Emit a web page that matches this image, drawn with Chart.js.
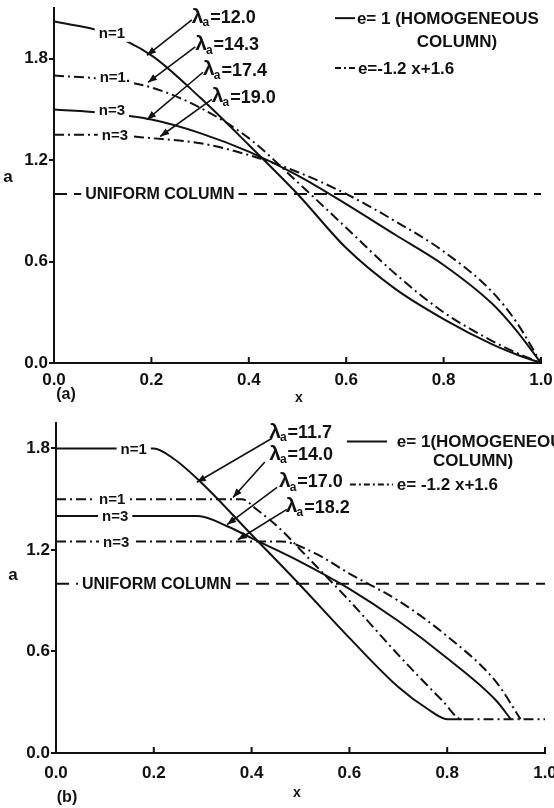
<!DOCTYPE html>
<html>
<head>
<meta charset="utf-8">
<script src="https://cdn.jsdelivr.net/npm/chart.js@4.4.0/dist/chart.umd.min.js"></script>
<style>
  html, body { margin: 0; padding: 0; background: #fff; }
  #wrap { position: relative; width: 554px; height: 808px; }
  canvas { position: absolute; left: 0; }
</style>
</head>
<body>
<div id="wrap">
  <canvas id="top" width="554" height="404" style="top:0"></canvas>
  <canvas id="bottom" width="554" height="404" style="top:404px"></canvas>
</div>
<script>
// tick labels
const xTicks = [0, 0.2, 0.4, 0.6, 0.8, 1.0];
const yTicks = [0, 0.6, 1.2, 1.8];

// (a) continuous distributions
const topX = [0, 0.1, 0.2, 0.3, 0.4, 0.5, 0.6, 0.7, 0.8, 0.9, 0.95, 1.0];
const topSolidN1 = [2.02, 1.96, 1.82, 1.57, 1.29, 1.00, 0.68, 0.44, 0.26, 0.11, 0.05, 0];
const topDashN1  = [1.70, 1.68, 1.63, 1.51, 1.33, 1.07, 0.80, 0.53, 0.30, 0.13, 0.06, 0];
const topSolidN3 = [1.50, 1.48, 1.44, 1.36, 1.25, 1.11, 0.94, 0.76, 0.58, 0.35, 0.19, 0];
const topDashN3  = [1.35, 1.35, 1.33, 1.30, 1.23, 1.13, 1.00, 0.84, 0.66, 0.42, 0.24, 0];
const topLambdas = ["12.0", "14.3", "17.4", "19.0"];

// (b) distributions with a lower bound
const botXSolidN1 = [0, 0.2, 0.24, 0.3, 0.4, 0.5, 0.6, 0.7, 0.76, 0.8, 0.83];
const botSolidN1  = [1.80, 1.80, 1.74, 1.59, 1.29, 0.99, 0.68, 0.39, 0.26, 0.20, 0.20];
const botXDashN1  = [0, 0.38, 0.41, 0.46, 0.5, 0.6, 0.7, 0.79, 0.83, 1.0];
const botDashN1   = [1.50, 1.50, 1.44, 1.32, 1.20, 0.90, 0.58, 0.31, 0.20, 0.20];
const botXSolidN3 = [0, 0.29, 0.35, 0.4, 0.5, 0.6, 0.7, 0.8, 0.9, 0.93];
const botSolidN3  = [1.40, 1.40, 1.34, 1.27, 1.13, 0.97, 0.78, 0.56, 0.31, 0.20];
const botXDashN3  = [0, 0.46, 0.53, 0.6, 0.7, 0.8, 0.9, 0.95];
const botDashN3   = [1.25, 1.25, 1.18, 1.06, 0.90, 0.69, 0.42, 0.20];
const botLambdas = ["11.7", "14.0", "17.0", "18.2"];

const uniformX = [0, 1];
const uniformA = [1, 1];

const FONT = '"Liberation Sans", Arial, sans-serif';
const INK = '#111';
const DASHDOT = [10, 4, 2, 4];

function pts(xs, ys) {
  return xs.map((x, i) => ({ x: x, y: ys[i] }));
}

function line(data, dash) {
  return {
    data: data,
    borderColor: INK,
    borderWidth: 2,
    borderDash: dash || [],
    pointRadius: 0,
    fill: false,
    cubicInterpolationMode: 'monotone'
  };
}

function arrowHead(ctx, x1, y1, x2, y2) {
  const ang = Math.atan2(y2 - y1, x2 - x1);
  const len = 9, w = 3.5;
  ctx.beginPath();
  ctx.moveTo(x2, y2);
  ctx.lineTo(x2 - len * Math.cos(ang) + w * Math.sin(ang), y2 - len * Math.sin(ang) - w * Math.cos(ang));
  ctx.lineTo(x2 - len * Math.cos(ang) - w * Math.sin(ang), y2 - len * Math.sin(ang) + w * Math.cos(ang));
  ctx.closePath();
  ctx.fill();
}

function drawLambda(ctx, x, y, val) {
  ctx.textAlign = 'left';
  ctx.textBaseline = 'middle';
  ctx.font = 'bold 21px ' + FONT;
  ctx.fillText('λ', x, y - 1);
  let w = ctx.measureText('λ').width;
  ctx.font = 'bold 12px ' + FONT;
  ctx.fillText('a', x + w - 1, y + 5);
  w += ctx.measureText('a').width;
  ctx.font = 'bold 18px ' + FONT;
  ctx.fillText('=' + val, x + w, y);
}

// annotations drawn on top of the lines
function annotate(spec) {
  return {
    id: 'annot',
    afterDatasetsDraw(chart) {
      const ctx = chart.ctx, xs = chart.scales.x, ys = chart.scales.y;
      const px = v => xs.getPixelForValue(v), py = v => ys.getPixelForValue(v);
      const area = chart.chartArea;
      ctx.save();
      ctx.strokeStyle = INK;
      ctx.fillStyle = INK;

      // inward x ticks
      ctx.lineWidth = 2;
      xTicks.forEach(v => {
        if (v === 0) return;
        ctx.beginPath();
        ctx.moveTo(px(v), area.bottom);
        ctx.lineTo(px(v), area.bottom - 6);
        ctx.stroke();
      });

      // text sitting on curves, with a white gap
      spec.onLine.forEach(l => {
        ctx.font = 'bold ' + l.size + 'px ' + FONT;
        ctx.textBaseline = 'middle';
        ctx.textAlign = l.align || 'center';
        const w = ctx.measureText(l.text).width;
        const x = px(l.x), y = py(l.y);
        const left = l.align === 'left' ? x : x - w / 2;
        ctx.fillStyle = '#fff';
        ctx.fillRect(left - 4, y - l.size / 2 - 1, w + 8, l.size + 2);
        ctx.fillStyle = INK;
        ctx.fillText(l.text, x, y + 1);
      });

      // leader arrows and lambda labels
      ctx.lineWidth = 1.6;
      spec.arrows.forEach((a, i) => {
        const x1 = px(a.from[0]), y1 = py(a.from[1]);
        const x2 = px(a.to[0]), y2 = py(a.to[1]);
        ctx.beginPath();
        ctx.moveTo(x1, y1);
        ctx.lineTo(x2, y2);
        ctx.stroke();
        arrowHead(ctx, x1, y1, x2, y2);
        drawLambda(ctx, px(a.label[0]), py(a.label[1]), spec.lambdas[i]);
      });

      // key
      ctx.lineWidth = 2;
      spec.key.forEach(k => {
        ctx.setLineDash(k.dash);
        ctx.beginPath();
        ctx.moveTo(px(k.x0), py(k.y));
        ctx.lineTo(px(k.x1), py(k.y));
        ctx.stroke();
        ctx.setLineDash([]);
        ctx.font = 'bold 17px ' + FONT;
        ctx.textAlign = 'left';
        ctx.textBaseline = 'middle';
        ctx.fillText(k.text, px(k.tx), py(k.y) + 1);
        if (k.text2) ctx.fillText(k.text2, px(k.tx2), py(k.y2) + 1);
      });

      // axis titles and panel tag
      ctx.textAlign = 'center';
      ctx.textBaseline = 'middle';
      spec.titles.forEach(t => {
        ctx.font = 'bold ' + t.size + 'px ' + FONT;
        ctx.fillText(t.text, t.px, t.py);
      });
      ctx.restore();
    }
  };
}

function makeChart(id, datasets, yMax, box, spec) {
  new Chart(document.getElementById(id), {
    type: 'line',
    data: { datasets: datasets },
    options: {
      responsive: false,
      animation: false,
      layout: { padding: { top: box.top, right: box.right, left: 0, bottom: 0 } },
      plugins: { legend: { display: false }, tooltip: { enabled: false } },
      scales: {
        x: {
          type: 'linear', min: 0, max: 1,
          afterBuildTicks: s => { s.ticks = xTicks.map(v => ({ value: v })); },
          afterFit: s => { s.height = box.xh; s.paddingLeft = 0; s.paddingRight = 0; },
          grid: { display: false, drawTicks: false },
          border: { display: true, color: INK, width: 2 },
          ticks: {
            color: INK, padding: box.xpad, autoSkip: false, maxRotation: 0,
            font: { family: FONT, size: 17, weight: 'bold' },
            callback: v => Number(v).toFixed(1)
          }
        },
        y: {
          type: 'linear', min: 0, max: yMax,
          afterBuildTicks: s => { s.ticks = yTicks.map(v => ({ value: v })); },
          afterFit: s => { s.width = box.yw; s.paddingTop = 0; s.paddingBottom = 0; },
          grid: { drawOnChartArea: false, drawTicks: true, tickLength: 5, color: INK, lineWidth: 2 },
          border: { display: true, color: INK, width: 2 },
          ticks: {
            color: INK, padding: 1,
            font: { family: FONT, size: 17, weight: 'bold' },
            callback: v => Number(v).toFixed(1)
          }
        }
      }
    },
    plugins: [annotate(spec)]
  });
}

// panel (a)
makeChart('top', [
  line(pts(uniformX, uniformA), [13, 7]),
  line(pts(topX, topSolidN1)),
  line(pts(topX, topDashN1), DASHDOT),
  line(pts(topX, topSolidN3)),
  line(pts(topX, topDashN3), DASHDOT)
], 2.1, { top: 8, right: 13, yw: 54, xh: 41, xpad: 7 }, {
  lambdas: topLambdas,
  onLine: [
    { text: 'n=1', x: 0.119, y: 1.95, size: 15 },
    { text: 'n=1.', x: 0.125, y: 1.69, size: 15 },
    { text: 'n=3', x: 0.119, y: 1.50, size: 15 },
    { text: 'n=3', x: 0.125, y: 1.35, size: 15 },
    { text: 'UNIFORM COLUMN', x: 0.064, y: 1.0, size: 16, align: 'left' }
  ],
  arrows: [
    { from: [0.283, 2.03], to: [0.191, 1.82], label: [0.283, 2.04] },
    { from: [0.290, 1.87], to: [0.193, 1.66], label: [0.290, 1.88] },
    { from: [0.306, 1.72], to: [0.191, 1.44], label: [0.306, 1.73] },
    { from: [0.324, 1.56], to: [0.218, 1.34], label: [0.324, 1.57] }
  ],
  key: [
    { dash: [], x0: 0.577, x1: 0.618, y: 2.04, tx: 0.622, text: 'e= 1 (HOMOGENEOUS', text2: 'COLUMN)', tx2: 0.745, y2: 1.90 },
    { dash: [6, 3, 2, 3], x0: 0.577, x1: 0.618, y: 1.745, tx: 0.624, text: 'e=-1.2 x+1.6' }
  ],
  titles: [
    { text: 'a', px: 8, py: 177, size: 17 },
    { text: 'x', px: 299, py: 398, size: 14 },
    { text: '(a)', px: 66, py: 395, size: 16 }
  ]
});

// panel (b)
makeChart('bottom', [
  line(pts(uniformX, uniformA), [13, 7]),
  line(pts(botXSolidN1, botSolidN1)),
  line(pts(botXDashN1, botDashN1), DASHDOT),
  line(pts(botXSolidN3, botSolidN3)),
  line(pts(botXDashN3, botDashN3), DASHDOT)
], 1.95, { top: 19, right: 9, yw: 56, xh: 55, xpad: 10 }, {
  lambdas: botLambdas,
  onLine: [
    { text: 'n=1', x: 0.159, y: 1.80, size: 15 },
    { text: 'n=1', x: 0.115, y: 1.50, size: 15 },
    { text: 'n=3', x: 0.121, y: 1.40, size: 15 },
    { text: 'n=3', x: 0.123, y: 1.25, size: 15 },
    { text: 'UNIFORM COLUMN', x: 0.053, y: 1.0, size: 16, align: 'left' }
  ],
  arrows: [
    { from: [0.442, 1.86], to: [0.288, 1.60], label: [0.436, 1.89] },
    { from: [0.427, 1.72], to: [0.362, 1.51], label: [0.436, 1.76] },
    { from: [0.452, 1.57], to: [0.350, 1.35], label: [0.456, 1.60] },
    { from: [0.472, 1.44], to: [0.372, 1.26], label: [0.470, 1.45] }
  ],
  key: [
    { dash: [], x0: 0.595, x1: 0.677, y: 1.84, tx: 0.697, text: 'e= 1(HOMOGENEOUS', text2: 'COLUMN)', tx2: 0.771, y2: 1.73 },
    { dash: [6, 3, 2, 3], x0: 0.601, x1: 0.689, y: 1.586, tx: 0.697, text: 'e= -1.2 x+1.6' }
  ],
  titles: [
    { text: 'a', px: 13, py: 171, size: 17 },
    { text: 'x', px: 297, py: 389, size: 14 },
    { text: '(b)', px: 67, py: 394, size: 16 }
  ]
});
</script>
</body>
</html>
